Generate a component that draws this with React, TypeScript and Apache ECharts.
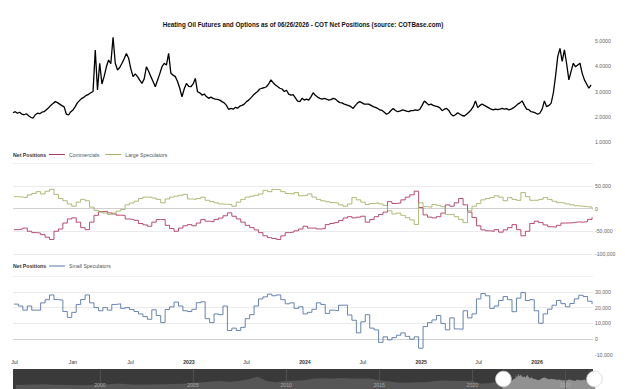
import React, { useEffect, useRef } from 'react';
import * as echarts from 'echarts';

// Heating oil front-month price, weekly closes starting 2021-06-26 (USD/gal)
const PRICE_START = '2021-06-26';
const priceValues = [
  2.16, 2.2, 2.14, 2.18, 2.1, 2.08, 2.12, 2.04, 1.98, 1.94,
  2.08, 2.14, 2.12, 2.18, 2.2, 2.28, 2.36, 2.45, 2.53, 2.6,
  2.56, 2.5, 2.44, 2.39, 2.1, 2.07, 2.2, 2.27, 2.4, 2.56,
  2.65, 2.73, 2.78, 2.85, 2.89, 2.95, 3.0, 4.64, 3.06, 4.12,
  3.3, 3.6, 3.98, 4.25, 4.1, 5.15, 4.12, 3.85, 3.95, 4.12,
  4.3, 4.51, 4.32, 3.9, 3.59, 3.7, 3.59, 3.45, 3.32, 3.5,
  3.98, 3.8, 3.59, 3.4, 3.19, 3.45, 3.7, 3.98, 4.12, 4.05,
  4.51, 3.72, 3.65, 3.59, 3.4, 3.13, 2.79, 3.1, 3.32, 3.2,
  3.19, 3.3, 3.52, 2.99, 2.95, 2.86, 2.9, 2.8, 2.73, 2.78,
  2.73, 2.7, 2.69, 2.66, 2.6, 2.55, 2.45, 2.29, 2.33, 2.3,
  2.37, 2.34, 2.42, 2.45, 2.5, 2.6, 2.66, 2.75, 2.85, 2.93,
  3.0, 3.1, 3.13, 3.15, 3.19, 3.3, 3.46, 3.35, 3.26, 3.2,
  3.13, 3.1, 3.0, 3.05, 2.9, 2.86, 2.88, 2.75, 2.62, 2.6,
  2.73, 2.66, 2.7, 2.66, 2.79, 2.95, 2.85, 2.78, 2.73, 2.7,
  2.73, 2.7, 2.66, 2.68, 2.73, 2.7, 2.62, 2.56, 2.55, 2.5,
  2.47, 2.44, 2.4, 2.33, 2.45, 2.55, 2.6, 2.55, 2.5, 2.5,
  2.5, 2.45, 2.4, 2.37, 2.33, 2.27, 2.25, 2.18, 2.1, 2.15,
  2.25, 2.33, 2.25, 2.2, 2.22, 2.27, 2.25, 2.22, 2.2, 2.24,
  2.24, 2.27, 2.25, 2.3, 2.45, 2.62, 2.55, 2.47, 2.5, 2.45,
  2.42, 2.4, 2.35, 2.24, 2.3, 2.33, 2.25, 2.1, 2.03, 2.08,
  2.16, 2.1, 2.05, 2.03, 2.1, 2.18, 2.27, 2.4, 2.63, 2.37,
  2.45, 2.5, 2.45, 2.4, 2.35, 2.3, 2.27, 2.3, 2.28, 2.3,
  2.33, 2.3, 2.32, 2.27, 2.3, 2.35, 2.42, 2.5, 2.55, 2.63,
  2.45, 2.3, 2.28, 2.2, 2.18, 2.15, 2.1, 2.15, 2.3, 2.63,
  2.4, 2.45, 2.53, 2.93, 3.6, 4.38, 4.71, 4.19, 4.65, 4.1,
  3.46, 3.8, 4.12, 3.98, 4.05, 4.12, 3.72, 3.46, 3.3, 3.13,
  3.26,
];

// COT net positions (contracts), one report every two weeks from 2021-06-29
const COT_START = '2021-06-29';
const commercials = [
  -46500, -45000, -43000, -50000, -53000, -54000, -57500, -63000, -68000, -50000,
  -45000, -32000, -23000, -20600, -30000, -42000, -46500, -30000, -15000, -7000,
  -6000, -9600, -12000, -14700, -15000, -23000, -24300, -26000, -33000, -36000,
  -39000, -30000, -24300, -24300, -37000, -44000, -50000, -43000, -38000, -35400,
  -38000, -32000, -24300, -28000, -29000, -24000, -21000, -16000, -9600, -17000,
  -23000, -30000, -37000, -42000, -47000, -53000, -60000, -64000, -66000, -68000,
  -60000, -53000, -51600, -49000, -45000, -39000, -43000, -43000, -45000, -44000,
  -35400, -33000, -31000, -26500, -21000, -18000, -20600, -19000, -17000, -30000,
  -24300, -18000, -13000, -8000, 15000, 11000, 12000, 19000, 25000, 30000,
  38000, 2000, -14000, -19000, -20600, -18000, -10000, 8000, 5000, 12500,
  22000, 8000, -8000, -20000, -38000, -47000, -49000, -50000, -46500, -52000,
  -47000, -42000, -35400, -46500, -60000, -50000, -33000, -28000, -31000, -36000,
  -40000, -41000, -37000, -32000, -31700, -31000, -29500, -30000, -29000, -24000,
  -19000,
];
const largeSpeculators = [
  26000, 25000, 24000, 30000, 33000, 37000, 32000, 38000, 42000, 31000,
  22000, 17000, 10000, 5000, 14000, 20000, 17000, 3000, -4000, -8000,
  -10000, -13000, -10000, -6000, -2000, 8000, 12000, 16000, 22000, 25000,
  25000, 23000, 20000, 12500, 21000, 25000, 27000, 29000, 31000, 21000,
  20000, 22000, 25000, 18000, 15000, 12500, 10000, 9000, 9000, 5000,
  14000, 20000, 25000, 27000, 29000, 32000, 40000, 37000, 42000, 41000,
  37000, 33000, 32000, 35000, 28000, 29000, 32000, 25000, 20000, 17000,
  15000, 13000, 12000, 8000, 5000, 10000, 24000, 19000, 14000, 9000,
  11000, 12500, 10000, 7000, -5000, -12000, -10000, -15000, -20000, -25000,
  -35000, 12500, 4000, 3000, 9000, 7000, 4000, -13000, -13000, -18000,
  -24000, -31000, -5000, 5000, 11000, 19000, 22000, 24000, 28000, 25000,
  17000, 24000, 20000, 18000, 35000, 26000, 18000, 18000, 20000, 24000,
  20000, 16000, 13000, 12000, 10000, 8000, 6000, 5000, 4000, 3000,
  0,
];
const smallSpeculators = [
  22200, 21000, 18400, 21000, 18400, 18400, 23000, 25000, 28000, 25100,
  24700, 17500, 13800, 17000, 22000, 25100, 28000, 23000, 20000, 18000,
  20000, 18400, 22000, 22400, 19500, 20000, 18800, 17500, 16000, 14300,
  12600, 18600, 15000, 10500, 18800, 20500, 23500, 21000, 18000, 17500,
  18900, 23100, 23700, 13000, 10500, 16000, 15500, 21000, 5500, 7000,
  5500, 7500, 13000, 15500, 21000, 25500, 26800, 28500, 27500, 28000,
  25000, 22400, 23000, 19500, 20500, 16000, 17000, 18900, 23000, 22000,
  16300, 18400, 18000, 21500, 21600, 15300, 12000, 4000, 11000, 15500,
  7000, 5900, -2000, 1500, -400, 1000, 2500, 4000, 1800, 0,
  1500, -5700, 8000, 10500, 12200, 15000, 10000, 5900, 13500, 6500,
  6300, 18000, 13500, 16000, 25500, 28900, 27500, 19500, 21000, 24500,
  27000, 25000, 17400, 26000, 29500, 24500, 25000, 18000, 10100, 16000,
  19000, 21500, 24500, 22500, 20500, 22600, 25500, 27800, 27000, 24000,
  22200,
];

// Long price history for the navigator, one value every six months from May 1995
const HISTORY_START_YEAR = 1995;
const HISTORY_START_MONTH = 4;
const priceHistory = [
  0.5, 0.52, 0.6, 0.72, 0.55, 0.55, 0.42, 0.36, 0.45, 0.62,
  0.75, 1.0, 0.78, 0.58, 0.62, 0.75, 0.72, 0.85, 0.98, 1.35,
  1.45, 1.75, 1.95, 1.7, 1.95, 2.65, 3.6, 1.9, 1.55, 2.0,
  2.1, 2.3, 2.95, 3.05, 2.95, 3.1, 2.9, 2.95, 2.9, 2.25,
  1.9, 1.45, 1.3, 1.5, 1.5, 1.95, 2.2, 2.1, 2.0, 1.95,
  0.9, 1.2, 1.95,
];

const RANGE_START = '2021-06-26';
const RANGE_END = '2026-06-26';
const TITLE = 'Heating Oil Futures and Options as of 06/26/2026 - COT Net Positions (source: COTBase.com)';

const DAY = 86400000;
const FONT = '"Liberation Sans", Arial, Helvetica, sans-serif';
const LABEL_SIZE = 5.2;
const LEGEND_LINE = 'path://M0,0 L16,0 L16,1 L0,1 Z';

const toTime = (s: string) => Date.parse(s + 'T00:00:00Z');
const dated = (start: string, stepDays: number, values: number[]) => {
  const t0 = toTime(start);
  return values.map((v, i) => [t0 + i * stepDays * DAY, v]);
};
const yearFraction = (t: number) => {
  const y = new Date(t).getUTCFullYear();
  const a = Date.UTC(y, 0, 1);
  const b = Date.UTC(y + 1, 0, 1);
  return y + (t - a) / (b - a);
};
const thousands = (v: number) => Math.round(v).toLocaleString('en-US');

export default function App() {
  const ref = useRef<HTMLDivElement>(null);

  useEffect(() => {
    if (!ref.current) return;
    const chart = echarts.init(ref.current, undefined, { renderer: 'svg' });

    const priceData = dated(PRICE_START, 7, priceValues);
    const historyData = priceHistory.map((v, i) => [
      Date.UTC(HISTORY_START_YEAR, HISTORY_START_MONTH + 6 * i, 1),
      v,
    ]);
    const navigatorData = historyData.concat(priceData);
    const xMin = toTime(RANGE_START);
    const xMax = toTime(RANGE_END);
    const historyMin = historyData[0][0] as number;
    const firstJanuary = new Date(xMin).getUTCFullYear() + 1;

    const left = 13;
    const right = 32;

    const monthLabel = (value: number) => {
      const d = new Date(value);
      if (d.getDate() !== 1) return '';
      const m = d.getMonth();
      if (m === 6) return 'Jul';
      if (m === 0) {
        const y = d.getFullYear();
        return y === firstJanuary ? 'Jan' : '{yr|' + y + '}';
      }
      return '';
    };

    const hiddenTime = (gridIndex: number) => ({
      gridIndex,
      type: 'time',
      min: xMin,
      max: xMax,
      show: false,
    });

    const valueLabel = {
      fontSize: LABEL_SIZE,
      color: '#666',
      fontFamily: FONT,
      margin: 2,
    };

    const legendBase = {
      padding: 0,
      itemWidth: 16,
      itemHeight: 1,
      itemGap: 6,
      icon: LEGEND_LINE,
      textStyle: { fontSize: LABEL_SIZE, color: '#555', fontFamily: FONT, padding: [0, 0, 0, -1] },
    };

    chart.setOption({
      animation: false,
      textStyle: { fontFamily: FONT },
      title: [
        {
          text: TITLE,
          left: 303,
          textAlign: 'center',
          top: 21.5,
          padding: 0,
          textStyle: { fontSize: 6.3, fontWeight: 'bold', color: '#111', fontFamily: FONT },
        },
        {
          text: 'Net Positions',
          left: 13,
          top: 152,
          padding: 0,
          textStyle: { fontSize: LABEL_SIZE, fontWeight: 'bold', color: '#333', fontFamily: FONT },
        },
        {
          text: 'Net Positions',
          left: 13,
          top: 263.5,
          padding: 0,
          textStyle: { fontSize: LABEL_SIZE, fontWeight: 'bold', color: '#333', fontFamily: FONT },
        },
      ],
      legend: [
        { ...legendBase, data: ['Commercials', 'Large Speculators'], left: 49, top: 152 },
        { ...legendBase, data: ['Small Speculators'], left: 49, top: 263.5 },
      ],
      grid: [
        { left, right, top: 36, height: 106 },
        { left, right, top: 163, height: 91 },
        { left, right, top: 276, height: 79 },
        { left, right, top: 369, height: 20, show: true, backgroundColor: '#3a3a3a', borderWidth: 0 },
      ],
      xAxis: [
        hiddenTime(0),
        hiddenTime(1),
        {
          gridIndex: 2,
          type: 'time',
          min: xMin,
          max: xMax,
          minInterval: 180 * DAY,
          maxInterval: 185 * DAY,
          axisLine: { show: false },
          axisTick: { show: false },
          splitLine: { show: false },
          axisLabel: {
            fontSize: LABEL_SIZE,
            color: '#333',
            margin: 4,
            fontFamily: FONT,
            showMinLabel: false,
            showMaxLabel: false,
            hideOverlap: false,
            formatter: monthLabel,
            rich: { yr: { fontSize: LABEL_SIZE, fontWeight: 'bold', color: '#333', fontFamily: FONT } },
          },
        },
        {
          gridIndex: 3,
          type: 'value',
          min: yearFraction(historyMin),
          max: yearFraction(xMax),
          z: 10,
          axisLine: { show: false },
          axisTick: { show: false },
          splitLine: { show: true, showMinLine: false, showMaxLine: false, lineStyle: { color: '#555', width: 0.8 } },
          axisLabel: {
            inside: true,
            margin: 2,
            fontSize: LABEL_SIZE,
            color: '#aaa',
            fontFamily: FONT,
            formatter: (v: number) =>
              Math.abs(v - Math.round(v)) < 1e-6 && Math.round(v) % 5 === 0 ? String(Math.round(v)) : '',
          },
        },
        {
          gridIndex: 3,
          type: 'time',
          min: historyMin,
          max: xMax,
          show: false,
        },
      ],
      yAxis: [
        {
          gridIndex: 0,
          position: 'right',
          min: 1,
          max: 5.2,
          interval: 1,
          axisLine: { show: false },
          axisTick: { show: false },
          splitLine: { show: false },
          axisLabel: {
            ...valueLabel,
            formatter: (v: number) => (Math.abs(v - Math.round(v)) < 1e-6 ? v.toFixed(4) : ''),
          },
        },
        {
          gridIndex: 1,
          position: 'right',
          min: -100000,
          max: 100000,
          interval: 50000,
          axisLine: { show: false },
          axisTick: { show: false },
          splitLine: {
            show: true,
            lineStyle: { color: ['#e6e6e6', '#e6e6e6', '#c4c4c4', '#e6e6e6', '#ececec'], width: 0.8 },
          },
          axisLabel: {
            ...valueLabel,
            formatter: (v: number) => (v >= 100000 ? '' : thousands(v)),
          },
        },
        {
          gridIndex: 2,
          position: 'right',
          min: -10000,
          max: 40000,
          interval: 10000,
          axisLine: { show: false },
          axisTick: { show: false },
          splitLine: {
            show: true,
            lineStyle: {
              color: ['rgba(0,0,0,0)', '#c4c4c4', '#e6e6e6', '#e6e6e6', '#e6e6e6', '#ececec'],
              width: 0.8,
            },
          },
          axisLabel: {
            ...valueLabel,
            formatter: (v: number) => (v >= 40000 ? '' : thousands(v)),
          },
        },
        { gridIndex: 3, show: false, min: 'dataMin', max: 'dataMax' },
      ],
      dataZoom: [
        {
          type: 'slider',
          xAxisIndex: 4,
          filterMode: 'none',
          startValue: xMin,
          endValue: xMax,
          left,
          right,
          top: 369,
          height: 20,
          z: 4,
          zoomLock: true,
          brushSelect: false,
          showDetail: false,
          moveHandleSize: 0,
          backgroundColor: 'rgba(0,0,0,0)',
          borderColor: 'rgba(0,0,0,0)',
          fillerColor: 'rgba(255,255,255,0.03)',
          dataBackground: {
            lineStyle: { opacity: 0 },
            areaStyle: { color: '#565656', opacity: 1 },
          },
          selectedDataBackground: {
            lineStyle: { opacity: 0 },
            areaStyle: { color: '#8e8e8e', opacity: 1 },
          },
          handleIcon: 'circle',
          handleSize: '78%',
          handleStyle: { color: '#ffffff', borderColor: '#d6d6d6', borderWidth: 0.8 },
        },
      ],
      series: [
        {
          name: 'Price',
          type: 'line',
          xAxisIndex: 0,
          yAxisIndex: 0,
          data: priceData,
          symbol: 'none',
          color: '#000',
          lineStyle: { color: '#000', width: 1.3 },
        },
        {
          name: 'Commercials',
          type: 'line',
          xAxisIndex: 1,
          yAxisIndex: 1,
          step: 'end',
          data: dated(COT_START, 14, commercials),
          symbol: 'none',
          color: '#b03a5e',
          lineStyle: { width: 0.9 },
        },
        {
          name: 'Large Speculators',
          type: 'line',
          xAxisIndex: 1,
          yAxisIndex: 1,
          step: 'end',
          data: dated(COT_START, 14, largeSpeculators),
          symbol: 'none',
          color: '#a5b268',
          lineStyle: { width: 0.9 },
        },
        {
          name: 'Small Speculators',
          type: 'line',
          xAxisIndex: 2,
          yAxisIndex: 2,
          step: 'end',
          data: dated(COT_START, 14, smallSpeculators),
          symbol: 'none',
          color: '#5677a8',
          lineStyle: { width: 0.9 },
        },
        {
          name: 'Navigator',
          type: 'line',
          xAxisIndex: 4,
          yAxisIndex: 3,
          data: navigatorData,
          symbol: 'none',
          silent: true,
          lineStyle: { opacity: 0 },
        },
      ],
    });

    return () => chart.dispose();
  }, []);

  return (
    <div
      ref={ref}
      style={{ position: 'fixed', left: 0, top: 0, width: 625, height: 389, background: '#fff' }}
    />
  );
}
